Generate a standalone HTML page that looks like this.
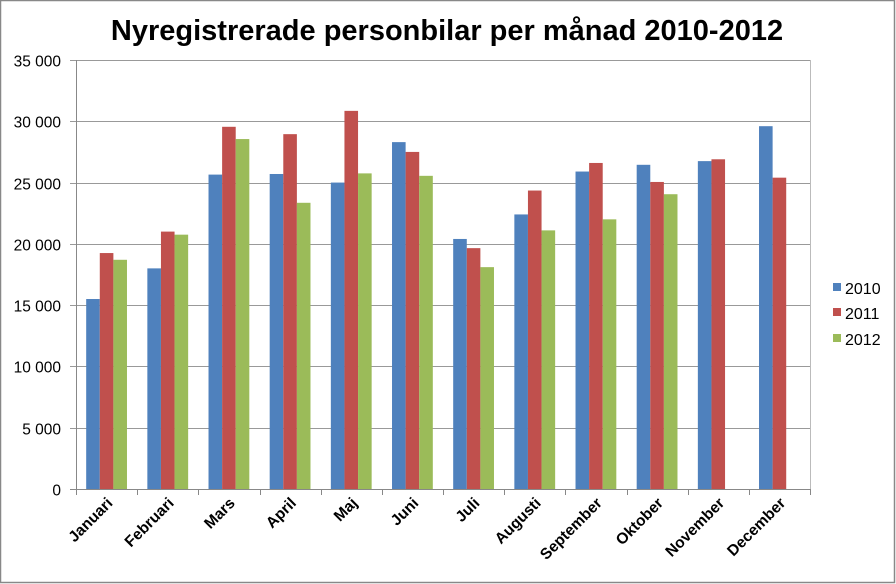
<!DOCTYPE html>
<html><head><meta charset="utf-8"><style>
html,body{margin:0;padding:0;background:#fff;}
svg{display:block;font-family:"Liberation Sans",Arial,sans-serif;}
</style></head><body>
<svg width="896" height="584" viewBox="0 0 896 584" xmlns="http://www.w3.org/2000/svg">
<rect x="0.5" y="0.5" width="894" height="582" fill="#fff" stroke="#888" stroke-width="1.5"/>
<text x="447" y="40" text-anchor="middle" font-size="29" font-weight="bold" fill="#000">Nyregistrerade personbilar per månad 2010-2012</text>
<g id="grid" stroke="#888" stroke-width="1"></g>
<g id="bars"></g>
<g id="labels" font-size="15.5" fill="#000"></g>
<g font-size="16">
<rect x="833" y="283" width="8" height="8" fill="#4F81BD"/><text x="845" y="294">2010</text>
<rect x="833" y="308" width="8" height="8" fill="#C0504D"/><text x="845" y="319">2011</text>
<rect x="833" y="334" width="8" height="8" fill="#9BBB59"/><text x="845" y="345">2012</text>
</g>
<script>
var ns="http://www.w3.org/2000/svg";
function el(t,a,p,txt){var e=document.createElementNS(ns,t);for(var k in a)e.setAttribute(k,a[k]);if(txt)e.textContent=txt;document.getElementById(p).appendChild(e);return e;}
var x0=76,x1=810,y0=489,s=429/35000,cw=(x1-x0)/12;
for(var v=0;v<=35000;v+=5000){var y=Math.round(y0-v*s)+0.5;
 el("line",{x1:70,x2:x1,y1:y,y2:y,stroke:v==0?"#888":"#999"},"grid");
 el("text",{x:61,y:y+6,"text-anchor":"end"},"labels",v==0?"0":(v/1000)+" 000");}
el("line",{x1:x0+0.5,x2:x0+0.5,y1:60,y2:y0},"grid");
el("line",{x1:x1+0.5,x2:x1+0.5,y1:60,y2:y0,stroke:"#bbb"},"grid");
for(var i=0;i<=12;i++){var x=Math.round(x0+i*cw)+0.5;el("line",{x1:x,x2:x,y1:y0,y2:y0+6},"grid");}
var d=[[15500,19250,18700],[18000,21000,20750],[25650,29550,28550],[25700,28950,23350],[25000,30850,25750],[28300,27500,25550],[20400,19650,18100],[22400,24350,21100],[25900,26600,22000],[26450,25050,24050],[26750,26900,null],[29600,25400,null]];
var c=["#4F81BD","#C0504D","#9BBB59"];
var m=["Januari","Februari","Mars","April","Maj","Juni","Juli","Augusti","September","Oktober","November","December"];
var bw=13.6;
for(var i=0;i<12;i++){var gx=x0+i*cw+(cw-3*bw)/2;
 for(var j=0;j<3;j++){if(d[i][j]==null)continue;var h=d[i][j]*s;
  el("rect",{x:gx+j*bw,y:y0-h,width:bw,height:h,fill:c[j]},"bars");}
 var cx=x0+i*cw+cw/2+7;
 el("text",{x:cx,y:504,"text-anchor":"end","font-weight":"bold",transform:"rotate(-45 "+cx+" 504)"},"labels",m[i]);}
</script>
</svg>
</body></html>
